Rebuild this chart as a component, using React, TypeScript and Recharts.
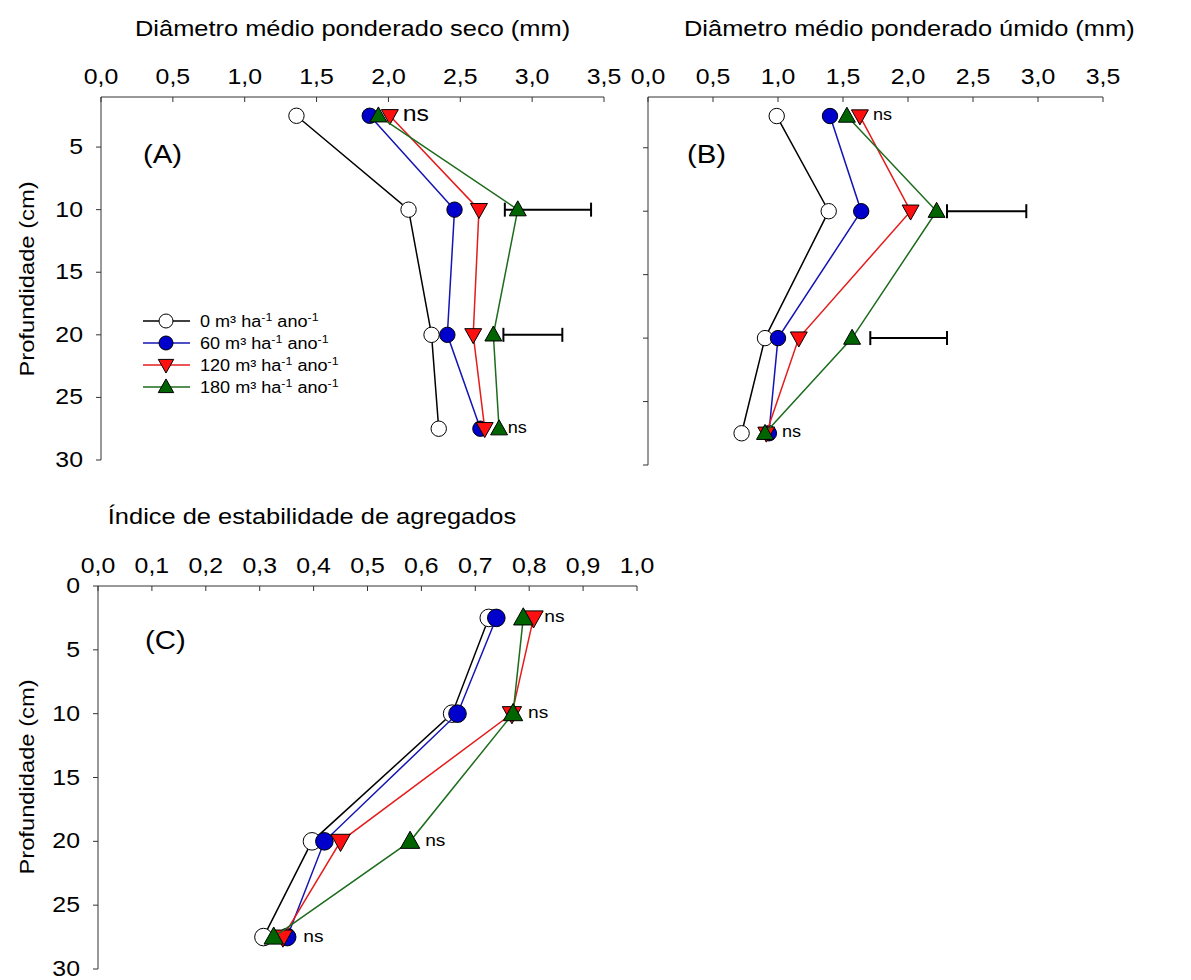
import React from 'react';
import { ScatterChart, Scatter, XAxis, YAxis, ErrorBar } from 'recharts';

const FONT = '"Liberation Sans", Arial, sans-serif';
const SX = 1.13; // the original lettering is a little wider than Arial
const AXIS = '#333';

// profundidade (cm) dos pontos amostrados
const depths = [2.5, 10, 20, 27.5];

// (A) Diâmetro médio ponderado seco (mm)
const dmpSeco0 = [1.36, 2.14, 2.3, 2.35];
const dmpSeco60 = [1.87, 2.46, 2.41, 2.64];
const dmpSeco120 = [2.01, 2.63, 2.59, 2.67];
const dmpSeco180 = [1.93, 2.9, 2.73, 2.77];
const dmpSecoBarDepth = [10, 20];
const dmpSecoBarFrom = [2.81, 2.8];
const dmpSecoBarLen = [0.6, 0.41];
const dmpSecoNsX = [2.1, 2.83];
const dmpSecoNsDepth = [2.5, 27.5];

// (B) Diâmetro médio ponderado úmido (mm)
const dmpUmido0 = [0.99, 1.39, 0.9, 0.72];
const dmpUmido60 = [1.4, 1.64, 1.0, 0.93];
const dmpUmido120 = [1.63, 2.02, 1.16, 0.91];
const dmpUmido180 = [1.53, 2.22, 1.57, 0.9];
const dmpUmidoBarDepth = [10, 20];
const dmpUmidoBarFrom = [2.3, 1.71];
const dmpUmidoBarLen = [0.61, 0.59];
const dmpUmidoNsX = [1.73, 1.03];
const dmpUmidoNsDepth = [2.5, 27.5];

// (C) Índice de estabilidade de agregados
const iea0 = [0.725, 0.657, 0.397, 0.307];
const iea60 = [0.739, 0.667, 0.42, 0.351];
const iea120 = [0.808, 0.768, 0.45, 0.343];
const iea180 = [0.789, 0.77, 0.579, 0.326];
const ieaNsX = [0.828, 0.798, 0.607, 0.381];
const ieaNsDepth = [2.5, 10, 20, 27.5];

const doses = ['0', '60', '120', '180'];
const dmpTicks = [0, 0.5, 1, 1.5, 2, 2.5, 3, 3.5];
const ieaTicks = [0, 0.1, 0.2, 0.3, 0.4, 0.5, 0.6, 0.7, 0.8, 0.9, 1];
const depthTicks = [5, 10, 15, 20, 25, 30];
const depthTicksC = [0, 5, 10, 15, 20, 25, 30];

const styles = [
  { kind: 'circle', fill: '#ffffff', line: '#000000' },
  { kind: 'circle', fill: '#0000cc', line: '#1414b4' },
  { kind: 'down', fill: '#ff1010', line: '#e41c1c' },
  { kind: 'up', fill: '#006400', line: '#1c6c1c' },
];

const toPoints = (xs: number[]) => xs.map((x, i) => ({ x, depth: depths[i] }));
const toBars = (d: number[], from: number[], len: number[]) =>
  d.map((depth, i) => ({ x: from[i] + len[i] / 2, depth, err: len[i] / 2 }));
const comma = (v: number) => v.toFixed(1).replace('.', ',');

const SText = ({ x, y, size, anchor = 'start', rotate = 0, children }: any) => (
  <text
    transform={`translate(${x},${y})${rotate ? ` rotate(${rotate})` : ''} scale(${SX},1)`}
    fontSize={size}
    fontFamily={FONT}
    textAnchor={anchor}
    fill="#000"
  >
    {children}
  </text>
);

const Marker = ({ cx, cy, kind, fill, r }: any) => {
  if (cx == null || cy == null) return <g />;
  if (kind === 'circle') {
    return <circle cx={cx} cy={cy} r={r} fill={fill} stroke="#000" strokeWidth={1} />;
  }
  const hw = r * 1.1;
  const a = r * 1.15;
  const b = r * 0.8;
  const pts =
    kind === 'up'
      ? `${cx},${cy - a} ${cx - hw},${cy + b} ${cx + hw},${cy + b}`
      : `${cx - hw},${cy - b} ${cx + hw},${cy - b} ${cx},${cy + a}`;
  return <polygon points={pts} fill={fill} stroke="#000" strokeWidth={1} />;
};

const XTick = ({ x, y, payload }: any) => (
  <g>
    <line x1={x} y1={y} x2={x} y2={y + 5} stroke={AXIS} />
    <SText x={x} y={y - 13} size={22} anchor="middle">
      {comma(payload.value)}
    </SText>
  </g>
);

const YTick = ({ x, y, payload, labels }: any) => (
  <g>
    <line x1={x - 5} y1={y} x2={x} y2={y} stroke={AXIS} />
    {labels && (
      <SText x={x - 18} y={y + 7} size={22} anchor="end">
        {payload.value}
      </SText>
    )}
  </g>
);

interface PanelProps {
  plot: { x: number; y: number; w: number; h: number };
  series: number[][];
  xDomain: [number, number];
  xTicks: number[];
  yDomain: [number, number];
  yTicks: number[];
  yLabels: boolean;
  bars?: { x: number; depth: number; err: number }[];
  nsX: number[];
  nsDepth: number[];
  nsSize: number[];
  r: number;
}

const Panel = ({ plot, series, xDomain, xTicks, yDomain, yTicks, yLabels, bars, nsX, nsDepth, nsSize, r }: PanelProps) => {
  const padL = 70;
  const padT = 50;
  return (
    <div style={{ position: 'absolute', left: plot.x - padL, top: plot.y - padT }}>
      <ScatterChart
        width={plot.w + padL + 20}
        height={plot.h + padT + 20}
        margin={{ top: padT - 40, left: padL - 60, right: 20, bottom: 20 }}
      >
        <XAxis
          type="number"
          dataKey="x"
          orientation="top"
          domain={xDomain}
          ticks={xTicks}
          interval={0}
          height={40}
          tickSize={0}
          tickMargin={0}
          tickLine={false}
          axisLine={{ stroke: AXIS }}
          tick={(p: any) => <XTick {...p} />}
        />
        <YAxis
          type="number"
          dataKey="depth"
          reversed
          domain={yDomain}
          ticks={yTicks}
          interval={0}
          width={60}
          tickSize={0}
          tickMargin={0}
          tickLine={false}
          axisLine={{ stroke: AXIS }}
          tick={(p: any) => <YTick {...p} labels={yLabels} />}
        />
        {series.map((xs, i) => (
          <Scatter
            key={doses[i]}
            name={doses[i]}
            data={toPoints(xs)}
            line={{ stroke: styles[i].line, strokeWidth: 1.5 }}
            shape={(p: any) => <Marker {...p} kind={styles[i].kind} fill={styles[i].fill} r={r} />}
            isAnimationActive={false}
          />
        ))}
        {bars && (
          <Scatter data={bars} shape={() => <g />} isAnimationActive={false}>
            <ErrorBar dataKey="err" direction="x" width={7} stroke="#000" strokeWidth={2} isAnimationActive={false} />
          </Scatter>
        )}
        {nsX.map((x, i) => (
          <Scatter
            key={`ns${i}`}
            data={[{ x, depth: nsDepth[i] }]}
            shape={(p: any) => (
              <SText x={p.cx} y={p.cy + nsSize[i] * 0.26} size={nsSize[i]}>
                ns
              </SText>
            )}
            isAnimationActive={false}
          />
        ))}
      </ScatterChart>
    </div>
  );
};

const legendRows = [321, 343, 365, 387];

export default function App() {
  return (
    <div style={{ position: 'absolute', left: 0, top: 0, width: 1191, height: 980, background: '#fff' }}>
      <Panel
        plot={{ x: 101, y: 97, w: 503, h: 363 }}
        series={[dmpSeco0, dmpSeco60, dmpSeco120, dmpSeco180]}
        xDomain={[0, 3.5]}
        xTicks={dmpTicks}
        yDomain={[1, 30]}
        yTicks={depthTicks}
        yLabels
        bars={toBars(dmpSecoBarDepth, dmpSecoBarFrom, dmpSecoBarLen)}
        nsX={dmpSecoNsX}
        nsDepth={dmpSecoNsDepth}
        nsSize={[22, 16]}
        r={7.7}
      />
      <Panel
        plot={{ x: 648, y: 97, w: 455, h: 368 }}
        series={[dmpUmido0, dmpUmido60, dmpUmido120, dmpUmido180]}
        xDomain={[0, 3.5]}
        xTicks={dmpTicks}
        yDomain={[1, 30]}
        yTicks={depthTicks}
        yLabels={false}
        bars={toBars(dmpUmidoBarDepth, dmpUmidoBarFrom, dmpUmidoBarLen)}
        nsX={dmpUmidoNsX}
        nsDepth={dmpUmidoNsDepth}
        nsSize={[16, 16]}
        r={7.7}
      />
      <Panel
        plot={{ x: 98, y: 586, w: 539, h: 383 }}
        series={[iea0, iea60, iea120, iea180]}
        xDomain={[0, 1]}
        xTicks={ieaTicks}
        yDomain={[0, 30]}
        yTicks={depthTicksC}
        yLabels
        nsX={ieaNsX}
        nsDepth={ieaNsDepth}
        nsSize={[17, 17, 17, 17]}
        r={8.8}
      />
      <svg width={1191} height={980} style={{ position: 'absolute', left: 0, top: 0, pointerEvents: 'none' }}>
        <SText x={135} y={36} size={22.5}>Diâmetro médio ponderado seco (mm)</SText>
        <SText x={684} y={36} size={22.5}>Diâmetro médio ponderado úmido (mm)</SText>
        <SText x={312} y={524} size={22.5} anchor="middle">Índice de estabilidade de agregados</SText>
        <SText x={34} y={279} size={21} anchor="middle" rotate={-90}>Profundidade (cm)</SText>
        <SText x={34} y={777} size={21} anchor="middle" rotate={-90}>Profundidade (cm)</SText>
        <SText x={143} y={163} size={26}>(A)</SText>
        <SText x={687} y={163} size={26}>(B)</SText>
        <SText x={145} y={649} size={26}>(C)</SText>
        {doses.map((d, i) => (
          <g key={d}>
            <line x1={143} y1={legendRows[i]} x2={190} y2={legendRows[i]} stroke={styles[i].line} strokeWidth={1.5} />
            <Marker cx={166} cy={legendRows[i]} kind={styles[i].kind} fill={styles[i].fill} r={7} />
            <SText x={200} y={legendRows[i] + 6} size={16}>
              {`${d} m³ ha`}
              <tspan dy={-6} fontSize={11}>-1</tspan>
              <tspan dy={6}> ano</tspan>
              <tspan dy={-6} fontSize={11}>-1</tspan>
            </SText>
          </g>
        ))}
      </svg>
    </div>
  );
}
